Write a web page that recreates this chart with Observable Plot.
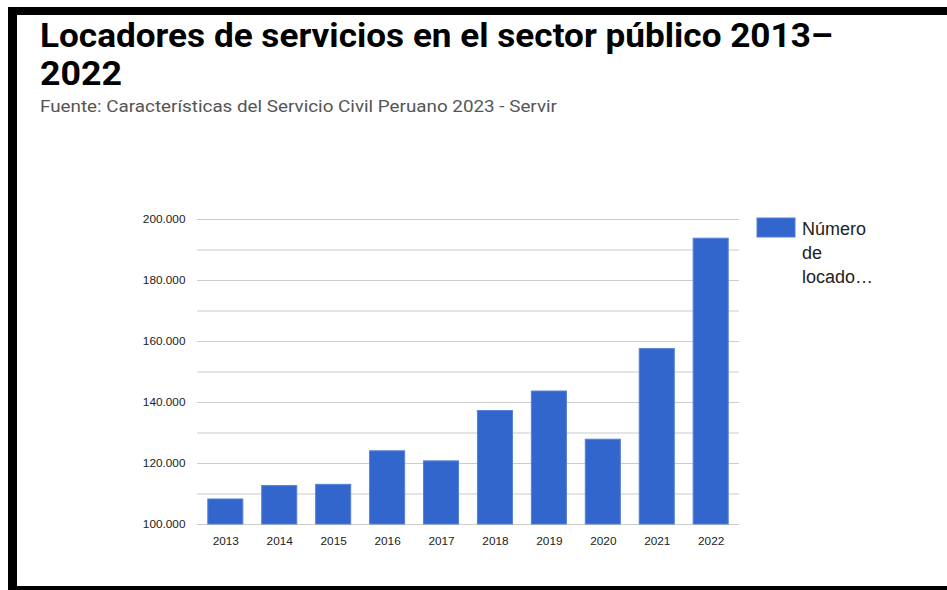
<!DOCTYPE html>
<html>
<head>
<meta charset="utf-8">
<script src="https://cdn.jsdelivr.net/npm/d3@7"></script>
<script src="https://cdn.jsdelivr.net/npm/@observablehq/plot@0.6"></script>
<style>
  html, body { margin: 0; padding: 0; background: #fff; }
  body { width: 947px; height: 590px; overflow: hidden; position: relative; }
  #frame { position: absolute; left: 8px; top: 7px; right: 0; bottom: 0;
           border-top: 8px solid #000; border-left: 9px solid #000; border-bottom: 4px solid #000;
           box-sizing: border-box; }
  #chart { position: absolute; left: 0; top: 200px; }
  #overlay { position: absolute; left: 0; top: 0; }
</style>
</head>
<body>
<div id="frame"></div>
<div id="chart"></div>
<svg id="overlay" width="947" height="300"></svg>
<script>
const titleLine1 = "Locadores de servicios en el sector público 2013–";
const titleLine2 = "2022";
const subtitle = "Fuente: Características del Servicio Civil Peruano 2023 - Servir";
const legendLines = ["Número", "de", "locado…"];

const years = ["2013","2014","2015","2016","2017","2018","2019","2020","2021","2022"];
const values = [108200, 112600, 113000, 124000, 120700, 137200, 143600, 127800, 157500, 193700];
const yTicks = [100000, 120000, 140000, 160000, 180000, 200000];
const yGrid = [100000, 110000, 120000, 130000, 140000, 150000, 160000, 170000, 180000, 190000, 200000];

const barColor = "#3366cc";
const data = years.map((y, i) => ({year: y, value: values[i]}));
const fmt = d => d3.format(",")(d).replace(/,/g, ".");

const plot = Plot.plot({
  width: 947,
  height: 360,
  marginLeft: 197,
  marginRight: 208,
  marginTop: 19,
  marginBottom: 36,
  style: { fontFamily: "'Liberation Sans', Arial, sans-serif", fontSize: "11.8px", color: "#222", background: "transparent" },
  x: { domain: years, paddingInner: 0.35, paddingOuter: 0.2, round: false, label: null },
  y: { domain: [100000, 200000], label: null },
  marks: [
    Plot.ruleY(yGrid, { stroke: "#cccccc", strokeWidth: 1.2 }),
    Plot.barY(data, { x: "year", y1: 100000, y2: "value", fill: barColor, stroke: "#5580d6", strokeWidth: 1, inset: 0 }),
    Plot.axisY({ ticks: yTicks, tickSize: 0, tickPadding: 12, tickFormat: fmt, fill: "#222", label: null }),
    Plot.axisX({ tickSize: 0, tickPadding: 12, fill: "#222", label: null })
  ]
});
document.getElementById("chart").appendChild(plot);

const ov = d3.select("#overlay");
ov.append("text").attr("x", 40).attr("y", 47)
  .attr("textLength", 793).attr("lengthAdjust", "spacingAndGlyphs")
  .style("font-family", "Roboto, 'Open Sans', sans-serif").style("font-weight", 700).style("font-size", "33px")
  .attr("fill", "#000").text(titleLine1);
ov.append("text").attr("x", 40).attr("y", 85)
  .attr("textLength", 82).attr("lengthAdjust", "spacingAndGlyphs")
  .style("font-family", "Roboto, 'Open Sans', sans-serif").style("font-weight", 700).style("font-size", "33px")
  .attr("fill", "#000").text(titleLine2);
ov.append("text").attr("x", 40).attr("y", 112)
  .attr("textLength", 517).attr("lengthAdjust", "spacingAndGlyphs")
  .style("font-family", "Roboto, 'Open Sans', sans-serif").style("font-size", "17px")
  .attr("fill", "#555").text(subtitle);

ov.append("rect").attr("x", 757).attr("y", 218).attr("width", 38).attr("height", 19)
  .attr("fill", barColor).attr("stroke", "#5580d6");
legendLines.forEach((t, i) => {
  ov.append("text").attr("x", 802).attr("y", [235, 259, 283][i])
    .style("font-family", "'Liberation Sans', Arial, sans-serif").style("font-size", "18px")
    .attr("fill", "#222").text(t);
});
</script>
</body>
</html>
